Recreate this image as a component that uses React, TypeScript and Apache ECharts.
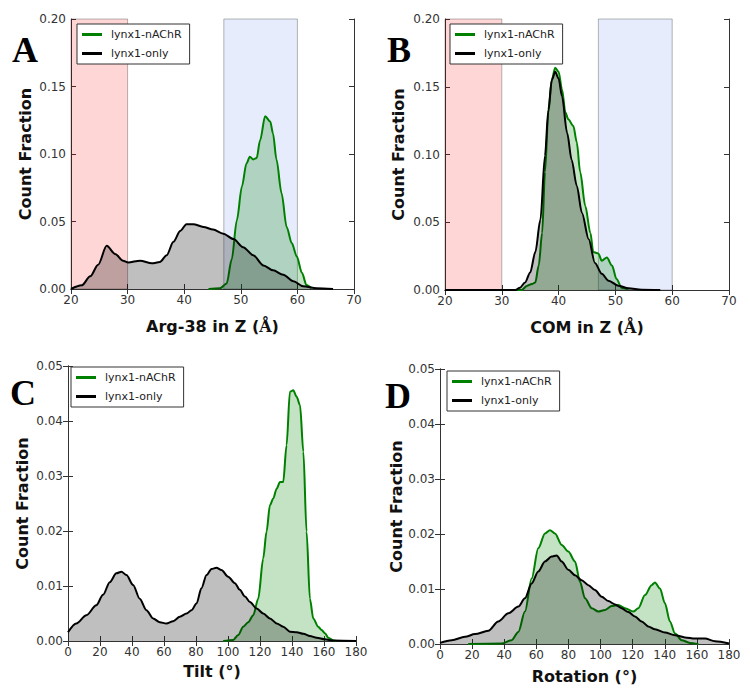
import React, { useEffect, useRef } from "react";
import * as echarts from "echarts";

// ---- Panel A: Arg-38 in Z ----
const aBlackX = [20, 21.9, 23.4, 24.8, 26.3, 27.8, 29.2, 30.1, 32.2, 34.3, 35.7, 36.9, 38.1, 39.3, 40.4, 41.6, 43.4, 45.1, 46.9, 48.7, 50.4, 52.2, 54.0, 55.7, 57.5, 59.3, 61.0, 63.4, 66.3];
const aBlackY = [0, 0.0027, 0.0094, 0.018, 0.032, 0.026, 0.021, 0.0197, 0.021, 0.019, 0.020, 0.025, 0.035, 0.043, 0.048, 0.048, 0.046, 0.044, 0.041, 0.037, 0.031, 0.025, 0.0175, 0.0138, 0.0106, 0.0057, 0.002, 0.0005, 0];
const aGreenX = [44.3, 46.3, 47.5, 48.4, 49.3, 50.2, 51.0, 51.6, 52.2, 52.8, 53.4, 54.3, 55.2, 55.7, 56.3, 57.2, 58.1, 59.0, 59.9, 60.8, 61.6, 62.5];
const aGreenY = [0, 0.0005, 0.004, 0.022, 0.051, 0.076, 0.093, 0.098, 0.096, 0.097, 0.110, 0.128, 0.124, 0.115, 0.096, 0.071, 0.046, 0.034, 0.024, 0.012, 0.003, 0.0005];

// ---- Panel B: COM in Z ----
const bBlackX = [20, 32.4, 33.2, 34.1, 35.0, 35.9, 36.8, 37.6, 38.2, 38.8, 39.4, 40.0, 40.6, 41.5, 42.3, 43.2, 44.1, 45.3, 46.4, 47.6, 48.8, 50.5, 52.3, 54.6, 57.9];
const bBlackY = [0, 0, 0.0017, 0.0056, 0.013, 0.028, 0.052, 0.099, 0.133, 0.155, 0.161, 0.156, 0.143, 0.116, 0.096, 0.077, 0.057, 0.0375, 0.020, 0.012, 0.0069, 0.0032, 0.0012, 0.0002, 0];
const bGreenX = [20, 33.5, 34.4, 35.3, 35.9, 36.5, 37.1, 37.6, 38.2, 38.8, 39.4, 40.0, 40.6, 41.2, 41.7, 42.6, 43.2, 43.8, 44.7, 45.6, 46.1, 47.0, 47.6, 48.5, 49.4, 50.2, 51.1, 52.3];
const bGreenY = [0, 0, 0.003, 0.0044, 0.0056, 0.018, 0.042, 0.087, 0.131, 0.155, 0.164, 0.161, 0.148, 0.131, 0.126, 0.121, 0.109, 0.087, 0.062, 0.042, 0.028, 0.027, 0.0216, 0.024, 0.018, 0.0081, 0.0017, 0.0005];

// ---- Panel C: Tilt ----
const cBlackX = [0, 5.2, 11.5, 17.7, 21.9, 26.1, 30.2, 33.4, 36.5, 40.7, 44.8, 49.0, 53.2, 57.4, 61.5, 65.7, 69.9, 74.1, 77.2, 80.3, 83.4, 86.6, 89.7, 92.8, 95.9, 100.1, 104.3, 107.4, 110.6, 113.7, 117.9, 122.0, 126.2, 130.4, 134.5, 138.7, 142.9, 147.1, 151.2, 155.4, 160.6, 165.8, 180];
const cBlackY = [0.0016, 0.0032, 0.0047, 0.0065, 0.0084, 0.0107, 0.0123, 0.0126, 0.012, 0.0102, 0.0077, 0.0056, 0.0041, 0.0034, 0.0032, 0.0036, 0.0044, 0.005, 0.0056, 0.0068, 0.0096, 0.012, 0.0131, 0.0133, 0.0129, 0.0117, 0.0105, 0.0093, 0.0081, 0.0071, 0.0059, 0.005, 0.0041, 0.0032, 0.0026, 0.0017, 0.0016, 0.0013, 0.0009, 0.0006, 0.0003, 0.0001, 0];
const cGreenX = [97.0, 103.3, 106.4, 109.5, 112.6, 115.8, 118.9, 122.0, 124.1, 126.2, 128.3, 130.4, 132.5, 134.5, 136.6, 138.7, 140.8, 142.9, 145.0, 147.1, 149.1, 151.2, 153.3, 156.4, 158.5, 160.6, 162.7, 165.8, 167.9];
const cGreenY = [0, 0.0002, 0.0011, 0.0026, 0.0034, 0.0047, 0.0077, 0.015, 0.0199, 0.0247, 0.0259, 0.0277, 0.0289, 0.0289, 0.0356, 0.0453, 0.0456, 0.0444, 0.0429, 0.0344, 0.0199, 0.0077, 0.0041, 0.0026, 0.002, 0.0014, 0.0006, 0.0001, 0];

// ---- Panel D: Rotation ----
const dBlackX = [0, 7.3, 15.6, 21.8, 30.1, 36.3, 42.6, 48.8, 52.9, 57.1, 61.2, 65.4, 69.5, 72.7, 75.8, 79.9, 84.1, 88.2, 92.4, 96.5, 100.7, 104.8, 109.0, 113.1, 117.3, 121.4, 125.6, 129.7, 133.9, 140.1, 146.4, 152.6, 158.8, 165.0, 171.3, 180];
const dBlackY = [0.0002, 0.0007, 0.0013, 0.0018, 0.0024, 0.0041, 0.0056, 0.0068, 0.0083, 0.011, 0.0132, 0.015, 0.0159, 0.0161, 0.015, 0.0135, 0.0125, 0.0116, 0.0107, 0.0098, 0.0086, 0.0078, 0.0072, 0.0065, 0.0058, 0.005, 0.0041, 0.0032, 0.0027, 0.0021, 0.0016, 0.0012, 0.001, 0.001, 0.0005, 0.0001];
const dGreenX = [17.6, 38.4, 44.6, 48.8, 52.9, 57.1, 61.2, 65.4, 68.5, 71.6, 75.8, 79.9, 84.1, 87.2, 90.3, 94.5, 98.6, 102.8, 106.9, 111.1, 115.2, 120.4, 123.5, 127.7, 131.8, 133.9, 137.0, 140.1, 143.2, 146.4, 150.5, 155.7, 160.9];
const dGreenY = [0, 0.0001, 0.0007, 0.0022, 0.0059, 0.0119, 0.0174, 0.0201, 0.0207, 0.0201, 0.018, 0.0168, 0.015, 0.0113, 0.0083, 0.0065, 0.0059, 0.0062, 0.0069, 0.0071, 0.0065, 0.0059, 0.0065, 0.0089, 0.0107, 0.0112, 0.0101, 0.0074, 0.0041, 0.0019, 0.0007, 0.0002, 0];

// Shaded Z regions (panels A and B)
const redBand = [20, 30];
const blueBand = [47, 60];

const seriesNames = ["lynx1-nAChR", "lynx1-only"];
const panelLetters = ["A", "B", "C", "D"];
const xTitles = ["Arg-38 in Z ({s|Å})", "COM in Z ({s|Å})", "Tilt (°)", "Rotation (°)"];
const yTitle = "Count Fraction";

const FONT = "DejaVu Sans";
const GREEN = "#008000";

const zip = (xs: number[], ys: number[]) => xs.map((x, i) => [x, ys[i]]);

export default function App() {
  const ref = useRef<HTMLDivElement>(null);
  useEffect(() => {
    if (!ref.current) return;
    const chart = echarts.init(ref.current, null, { renderer: "svg" });

    const grids = [
      { left: 71, top: 19, width: 283, height: 270 },
      { left: 445, top: 19, width: 284, height: 271 },
      { left: 68, top: 366, width: 288, height: 275 },
      { left: 440, top: 369, width: 289, height: 275 },
    ];
    const xRange = [
      { min: 20, max: 70, interval: 10 },
      { min: 20, max: 70, interval: 10 },
      { min: 0, max: 180, interval: 20 },
      { min: 0, max: 180, interval: 20 },
    ];
    const yRange = [
      { min: 0, max: 0.2, interval: 0.05 },
      { min: 0, max: 0.2, interval: 0.05 },
      { min: 0, max: 0.05, interval: 0.01 },
      { min: 0, max: 0.05, interval: 0.01 },
    ];
    const xNameGap = [29, 29, 22, 24];
    const yNameGap = [38, 39, 38, 36];

    const axisLine = { show: true, lineStyle: { color: "#333", width: 1 } };
    const axisTick = { show: true, inside: true, length: 5, lineStyle: { color: "#333" } };
    const labelStyle = { color: "#333", fontSize: 12, fontFamily: FONT };
    const nameStyle = {
      color: "#111",
      fontSize: 16,
      fontWeight: "bold",
      fontFamily: FONT,
      rich: { s: { fontFamily: "DejaVu Serif", fontWeight: "bold", fontSize: 16, color: "#111" } },
    };

    const xAxes: any[] = [];
    const yAxes: any[] = [];
    grids.forEach((g, i) => {
      xAxes.push({
        type: "value", gridIndex: i, position: "bottom", ...xRange[i],
        name: xTitles[i], nameLocation: "middle", nameGap: xNameGap[i], nameTextStyle: nameStyle,
        axisLine, axisTick, splitLine: { show: false },
        axisLabel: { ...labelStyle, margin: 5 },
      });
      xAxes.push({
        type: "value", gridIndex: i, position: "top", ...xRange[i],
        axisLine, axisTick, splitLine: { show: false }, axisLabel: { show: false },
      });
      yAxes.push({
        type: "value", gridIndex: i, position: "left", ...yRange[i],
        name: yTitle, nameLocation: "middle", nameGap: yNameGap[i], nameRotate: 90, nameTextStyle: nameStyle,
        axisLine, axisTick, splitLine: { show: false },
        axisLabel: { ...labelStyle, margin: 5, formatter: (v: number) => v.toFixed(2) },
      });
      yAxes.push({
        type: "value", gridIndex: i, position: "right", ...yRange[i],
        axisLine, axisTick, splitLine: { show: false }, axisLabel: { show: false },
      });
    });

    const panels = [
      [aGreenX, aGreenY, aBlackX, aBlackY],
      [bGreenX, bGreenY, bBlackX, bBlackY],
      [cGreenX, cGreenY, cBlackX, cBlackY],
      [dGreenX, dGreenY, dBlackX, dBlackY],
    ];

    const series: any[] = [];
    // shaded bands for A and B
    [0, 1].forEach((i) => {
      series.push({
        type: "line", xAxisIndex: i * 2, yAxisIndex: i * 2, data: [[redBand[0], 0]], z: 1,
        symbol: "none", silent: true, lineStyle: { opacity: 0 },
        markArea: {
          silent: true,
          itemStyle: { borderColor: "rgba(0,0,0,0.28)", borderWidth: 1 },
          data: [
            [{ xAxis: redBand[0], itemStyle: { color: "rgba(255,0,0,0.16)", borderColor: "rgba(0,0,0,0.28)", borderWidth: 1 } }, { xAxis: redBand[1] }],
            [{ xAxis: blueBand[0], itemStyle: { color: "rgba(65,105,225,0.13)", borderColor: "rgba(0,0,0,0.28)", borderWidth: 1 } }, { xAxis: blueBand[1] }],
          ],
        },
      });
    });
    panels.forEach((p, i) => {
      series.push({
        name: seriesNames[0], type: "line", xAxisIndex: i * 2, yAxisIndex: i * 2,
        data: zip(p[0], p[1]), smooth: 0.3, smoothMonotone: "x", symbol: "none", z: 3,
        lineStyle: { color: GREEN, width: 2 }, itemStyle: { color: GREEN },
        areaStyle: { color: GREEN, opacity: 0.23, origin: "start" },
      });
      series.push({
        name: seriesNames[1], type: "line", xAxisIndex: i * 2, yAxisIndex: i * 2,
        data: zip(p[2], p[3]), smooth: 0.3, smoothMonotone: "x", symbol: "none", z: 4,
        lineStyle: { color: "#000", width: 2 }, itemStyle: { color: "#000" },
        areaStyle: { color: "#000", opacity: 0.25, origin: "start" },
      });
    });

    const legendPos = [
      { left: 77, top: 24 },
      { left: 450, top: 24 },
      { left: 71, top: 367 },
      { left: 447, top: 371 },
    ];
    const legends = legendPos.map((pos) => ({
      ...pos,
      orient: "vertical",
      data: [
        { name: seriesNames[0], icon: "rect", itemStyle: { color: GREEN, borderWidth: 0 } },
        { name: seriesNames[1], icon: "rect", itemStyle: { color: "#000", borderWidth: 0 } },
      ],
      itemWidth: 20,
      itemHeight: 3,
      itemGap: 6,
      selectedMode: false,
      padding: [4, 8, 4, 5],
      borderColor: "#333",
      borderWidth: 1,
      backgroundColor: "#fff",
      textStyle: { fontSize: 11, fontFamily: FONT, color: "#222", padding: [0, 0, 0, 4], lineHeight: 13 },
    }));

    const letterPos = [
      [12, 32],
      [387, 32],
      [10, 375],
      [385, 378],
    ];
    const graphic = panelLetters.map((t, i) => ({
      type: "text",
      x: letterPos[i][0],
      y: letterPos[i][1],
      style: {
        text: t,
        fill: "#000",
        font: "bold 36px 'Liberation Serif'",
        verticalAlign: "alphabetic",
      },
    }));

    chart.setOption({
      animation: false,
      backgroundColor: "#fff",
      grid: grids,
      xAxis: xAxes,
      yAxis: yAxes,
      legend: legends,
      series,
      graphic,
    });
    return () => chart.dispose();
  }, []);
  return (
    <div
      ref={ref}
      style={{ position: "fixed", left: 0, top: 0, width: 750, height: 690 }}
    />
  );
}
